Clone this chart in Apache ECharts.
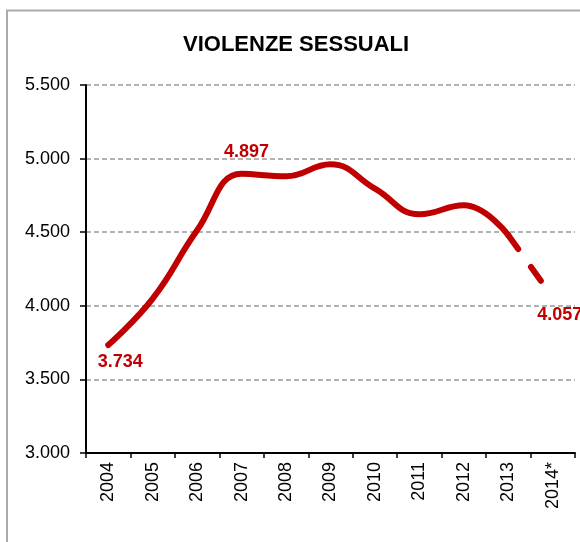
<!DOCTYPE html>
<html>
<head>
<meta charset="utf-8">
<script src="https://cdn.jsdelivr.net/npm/echarts@6/dist/echarts.min.js"></script>
<style>
html,body{margin:0;padding:0;background:#fff;}
#chart{width:580px;height:542px;}
</style>
</head>
<body>
<div id="chart"></div>
<script>
// ---- data ----
const categories = ['2004','2005','2006','2007','2008','2009','2010','2011','2012','2013','2014*'];
const solidValues = [3734, 4049, 4513, 4897, 4880, 4961, 4796, 4622, 4683, 4480];
const projectedValues = ['-','-','-','-','-','-','-','-','-', 4480, 4057];
const yTicks = [3000, 3500, 4000, 4500, 5000, 5500];
const titleText = 'VIOLENZE SESSUALI';

const fmt = v => (v / 1000).toFixed(3);
const RED = '#c00000';
const FONT = "'Liberation Sans', Arial, sans-serif";

const solidData = solidValues.map((v, i) => {
  if (i === 0) return { value: v, label: { show: true, position: 'bottom', distance: 8, offset: [12, 0] } };
  if (i === 3) return { value: v, label: { show: true, position: 'top', distance: 12, offset: [5, 0] } };
  return v;
});
const projData = projectedValues.map((v, i) => {
  if (i === projectedValues.length - 1) return { value: v, label: { show: true, position: 'bottom', distance: 8, offset: [7, 0] } };
  return v;
});

const chart = echarts.init(document.getElementById('chart'));
chart.setOption({
  animation: false,
  backgroundColor: '#fff',
  textStyle: { fontFamily: FONT },
  title: {
    text: titleText,
    left: 178,
    top: 29,
    textStyle: { fontFamily: FONT, fontSize: 22, fontWeight: 'bold', color: '#000' }
  },
  graphic: [{
    type: 'rect',
    shape: { x: 7, y: 10.5, width: 700, height: 700 },
    style: { fill: 'none', stroke: '#aaaaaa', lineWidth: 2 },
    silent: true,
    z: -1
  }],
  grid: { left: 86, right: 5, top: 85, bottom: 89, containLabel: false },
  xAxis: {
    type: 'category',
    data: categories,
    boundaryGap: true,
    axisLine: { lineStyle: { color: '#000', width: 2 } },
    axisTick: { show: true, length: 5, lineStyle: { color: '#000', width: 1.5 } },
    axisLabel: { rotate: 90, margin: 9, fontSize: 18, color: '#000', fontFamily: FONT }
  },
  yAxis: {
    type: 'value',
    min: yTicks[0],
    max: yTicks[yTicks.length - 1],
    interval: 500,
    axisLine: { show: true, lineStyle: { color: '#000', width: 2 } },
    axisTick: { show: true, length: 6, lineStyle: { color: '#000', width: 1.5 } },
    axisLabel: { margin: 16, fontSize: 18, color: '#000', fontFamily: FONT, formatter: v => fmt(v) },
    splitLine: { show: true, lineStyle: { color: '#9a9a9a', width: 1.5, type: [5, 3] } }
  },
  series: [
    {
      type: 'line',
      data: solidData,
      smooth: 0.45,
      symbol: 'circle',
      symbolSize: 1,
      showSymbol: true,
      itemStyle: { color: 'rgba(0,0,0,0)' },
      lineStyle: { color: RED, width: 6, cap: 'round', join: 'round' },
      label: { show: false, color: RED, fontSize: 18, fontWeight: 'bold', fontFamily: FONT, formatter: p => fmt(p.value) },
      emphasis: { disabled: true },
      z: 3
    },
    {
      type: 'line',
      data: projData,
      smooth: false,
      symbol: 'circle',
      symbolSize: 1,
      showSymbol: true,
      itemStyle: { color: 'rgba(0,0,0,0)' },
      lineStyle: { color: RED, width: 6, type: [17, 22], cap: 'round' },
      label: { show: false, color: RED, fontSize: 18, fontWeight: 'bold', fontFamily: FONT, formatter: p => fmt(p.value) },
      emphasis: { disabled: true },
      z: 3
    }
  ]
});
</script>
</body>
</html>
